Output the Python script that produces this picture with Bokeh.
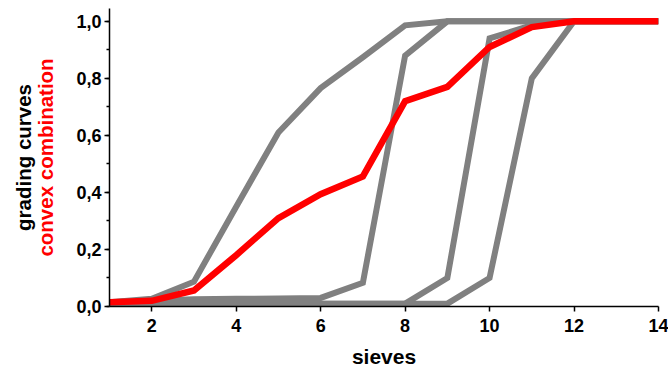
from bokeh.plotting import figure
from bokeh.models import LinearAxis, FixedTicker, SingleIntervalTicker, CustomJSTickFormatter, Range1d
from bokeh.embed import file_html
from bokeh.resources import INLINE

sieves = [1, 2, 3, 4, 5, 6, 7, 8, 9, 10, 11, 12, 13, 14]
grading_1 = [0.015, 0.027, 0.087, 0.35, 0.61, 0.766, 0.874, 0.986, 1.0, 1.0, 1.0, 1.0, 1.0, 1.0]
grading_2 = [0.015, 0.02, 0.025, 0.027, 0.028, 0.03, 0.083, 0.88, 1.0, 1.0, 1.0, 1.0, 1.0, 1.0]
grading_3 = [0.01, 0.01, 0.01, 0.01, 0.01, 0.01, 0.01, 0.01, 0.10, 0.94, 0.986, 1.0, 1.0, 1.0]
grading_4 = [0.01, 0.01, 0.01, 0.01, 0.01, 0.01, 0.01, 0.01, 0.01, 0.10, 0.80, 1.0, 1.0, 1.0]
convex = [0.015, 0.02, 0.056, 0.18, 0.31, 0.394, 0.456, 0.72, 0.77, 0.91, 0.98, 1.0, 1.0, 1.0]
x_ticks = [2, 4, 6, 8, 10, 12, 14]

FONT = "Liberation Sans"

p = figure(width=668, height=370, x_range=Range1d(1, 14), y_range=Range1d(0, 1.045),
           output_backend="svg", toolbar_location=None,
           min_border_left=109, min_border_right=10, min_border_top=8, min_border_bottom=63)
p.outline_line_color = None
p.grid.visible = False

for g in (grading_1, grading_2, grading_3, grading_4):
    p.line(sieves, g, line_color="#808080", line_width=6, line_join="miter")
p.line(sieves, convex, line_color="#ff0000", line_width=6.5, line_join="miter")

def style(ax):
    ax.axis_line_color = "black"
    ax.axis_line_width = 1.5
    ax.major_tick_line_color = "black"
    ax.major_tick_line_width = 1.5
    ax.minor_tick_line_color = "black"
    ax.minor_tick_line_width = 1.5
    ax.major_tick_in = 0
    ax.major_tick_out = 5
    ax.minor_tick_in = 0
    ax.minor_tick_out = 3
    ax.major_label_text_font = FONT
    ax.major_label_text_font_style = "bold"
    ax.major_label_text_font_size = "18px"
    ax.major_label_text_color = "black"
    ax.axis_label_text_font = FONT
    ax.axis_label_text_font_style = "bold"
    ax.axis_label_text_font_size = "21px"

xa = p.xaxis[0]
style(xa)
xa.ticker = FixedTicker(ticks=x_ticks, minor_ticks=[])
xa.axis_label = "sieves"
xa.axis_label_text_color = "black"
xa.major_label_standoff = 7
xa.axis_label_standoff = 10

ya = p.yaxis[0]
style(ya)
ya.ticker = SingleIntervalTicker(interval=0.2, num_minor_ticks=2)
ya.formatter = CustomJSTickFormatter(code="return tick.toFixed(1).replace('.', ',');")
ya.axis_label = "convex combination"
ya.axis_label_text_color = "#ff0000"
ya.axis_label_text_font_size = "20.5px"
ya.major_label_standoff = 3
ya.axis_label_standoff = 16

ax2 = LinearAxis(ticker=FixedTicker(ticks=[], minor_ticks=[]), axis_label="grading curves")
ax2.axis_line_color = None
ax2.major_tick_line_color = None
ax2.minor_tick_line_color = None
ax2.major_tick_out = 0
ax2.minor_tick_out = 0
ax2.major_label_standoff = 0
ax2.axis_label_standoff = -3
ax2.axis_label_text_font = FONT
ax2.axis_label_text_font_style = "bold"
ax2.axis_label_text_font_size = "20.5px"
ax2.axis_label_text_color = "black"
p.add_layout(ax2, "left")

open("out.html", "w").write(file_html(p, INLINE))
